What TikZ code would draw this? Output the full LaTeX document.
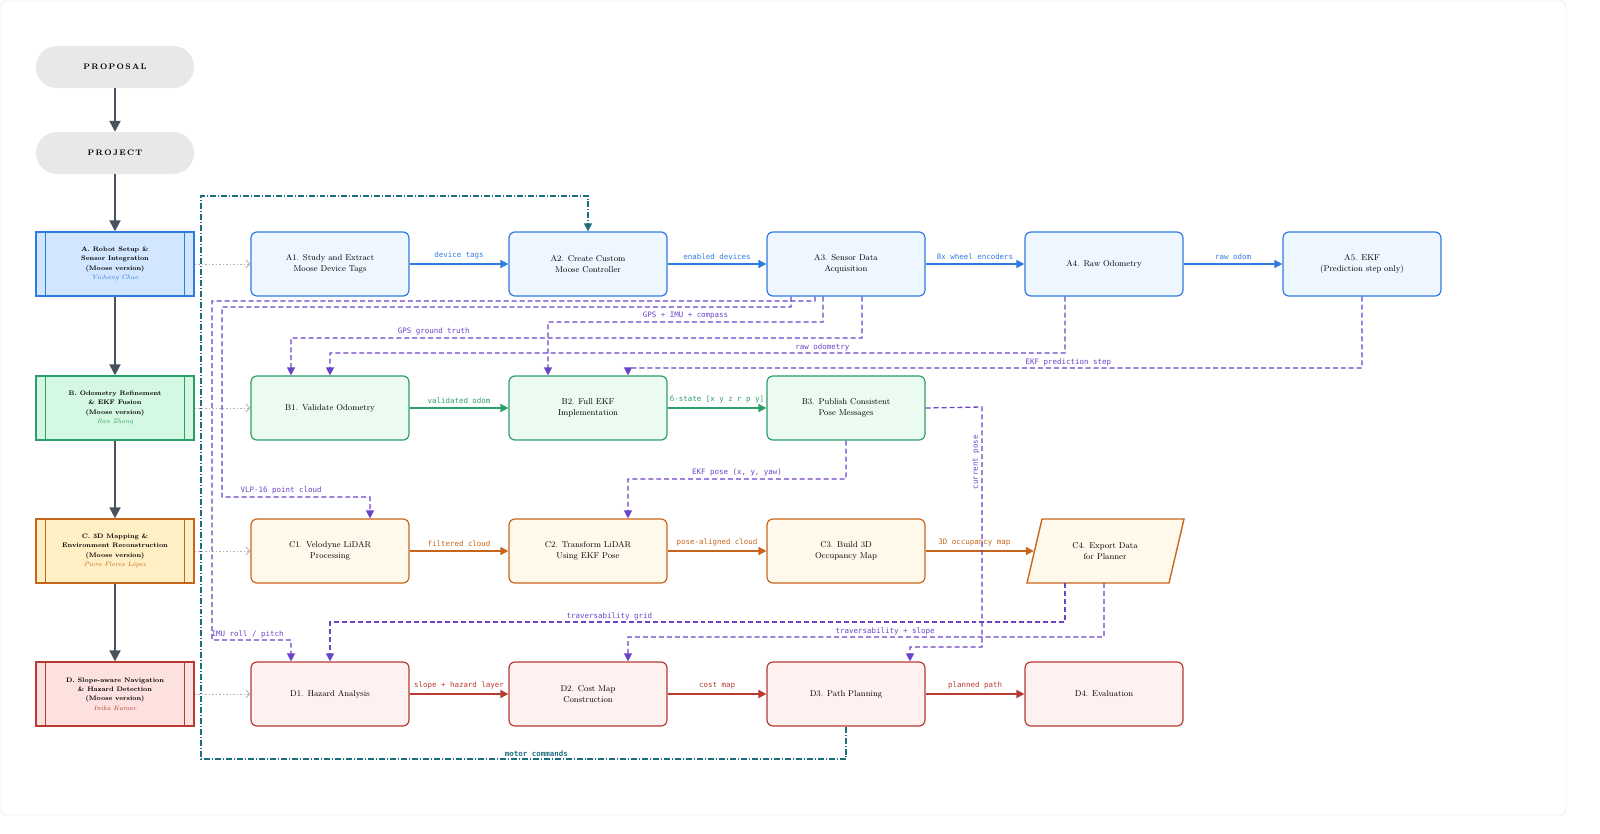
\documentclass[tikz,border=0pt]{standalone}
\usepackage{fontspec}
\newfontfamily\monof{DejaVu Sans Mono}
\usetikzlibrary{arrows.meta}
\definecolor{cA}{HTML}{2F7BE0}\definecolor{fA}{HTML}{EEF6FF}\definecolor{pA}{HTML}{D2E6FF}
\definecolor{cB}{HTML}{2E9E6A}\definecolor{fB}{HTML}{EBFBF2}\definecolor{pB}{HTML}{D4F8E1}
\definecolor{cC}{HTML}{C8651C}\definecolor{fC}{HTML}{FFF9EC}\definecolor{pC}{HTML}{FFEFC4}
\definecolor{cD}{HTML}{B83A32}\definecolor{fD}{HTML}{FFF1F0}\definecolor{pD}{HTML}{FCE1DF}
\definecolor{pur}{HTML}{6A44C8}\definecolor{teal}{HTML}{1D6F80}\definecolor{spine}{HTML}{4A5260}
\definecolor{labA}{HTML}{2F7BE0}\definecolor{labB}{HTML}{2E9E6A}\definecolor{labC}{HTML}{C8651C}\definecolor{labD}{HTML}{B83A32}
\begin{document}
\begin{tikzpicture}[x=1bp,y=-1bp,
 task/.style={draw,rounded corners=6pt,minimum width=158bp,minimum height=64bp,line width=1.2pt,align=center,font=\fontsize{8.5}{11.5}\selectfont},
 phase/.style={draw,minimum width=158bp,minimum height=64bp,line width=1.4pt,align=center,font=\fontsize{6.5}{9.5}\selectfont\bfseries},
 pill/.style={fill=gray!18,rounded corners=21pt,minimum width=158bp,minimum height=42bp,font=\fontsize{8}{9}\selectfont\bfseries},
 spinearr/.style={draw=spine,line width=2.2pt,-{Triangle[length=11pt,width=11pt]}},
 flow/.style={line width=1.6pt,-{Triangle[length=8pt,width=8pt]}},
 dep/.style={draw=pur,line width=1.3pt,dash pattern=on 5pt off 3pt,-{Triangle[length=8pt,width=8pt]}},
 dot/.style={draw=gray!60,line width=0.9pt,dash pattern=on 1.5pt off 2pt,-{Straight Barb[length=4pt]}},
 lab/.style={font=\monof\fontsize{7.5}{8.5}\selectfont,inner sep=1pt},
]
\draw[gray!25,rounded corners=6pt] (1,1) rectangle (1566,815);
% spine
\node[pill] (prop) at (115,67) {P\,R\,O\,P\,O\,S\,A\,L};
\node[pill] (proj) at (115,153) {P\,R\,O\,J\,E\,C\,T};
\node[phase,draw=cA,fill=pA] (PA) at (115,264) {A. Robot Setup \&\\Sensor Integration\\(Moose version)\\{\mdseries\itshape\color{cA}Yichang Chao}};
\node[phase,draw=cB,fill=pB] (PB) at (115,408) {B. Odometry Refinement\\\& EKF Fusion\\(Moose version)\\{\mdseries\itshape\color{cB}Ran Zhang}};
\node[phase,draw=cC,fill=pC] (PC) at (115,551) {C. 3D Mapping \&\\Environment Reconstruction\\(Moose version)\\{\mdseries\itshape\color{cC}Piero Flores López}};
\node[phase,draw=cD,fill=pD] (PD) at (115,694) {D. Slope-aware Navigation\\\& Hazard Detection\\(Moose version)\\{\mdseries\itshape\color{cD}Inika Kumar}};
\foreach \p/\c in {PA/cA,PB/cB,PC/cC,PD/cD}{
 \draw[\c,line width=1pt] ([xshift=10bp]\p.north west) -- ([xshift=10bp]\p.south west);
 \draw[\c,line width=1pt] ([xshift=-10bp]\p.north east) -- ([xshift=-10bp]\p.south east);}
\draw[spinearr] (prop) -- (proj);
\draw[spinearr] (proj) -- (PA);
\draw[spinearr] (PA) -- (PB);
\draw[spinearr] (PB) -- (PC);
\draw[spinearr] (PC) -- (PD);
% tasks
\node[task,draw=cA,fill=fA] (A1) at (330,264) {A1. Study and Extract\\Moose Device Tags};
\node[task,draw=cA,fill=fA] (A2) at (588,264) {A2. Create Custom\\Moose Controller};
\node[task,draw=cA,fill=fA] (A3) at (846,264) {A3. Sensor Data\\Acquisition};
\node[task,draw=cA,fill=fA] (A4) at (1104,264) {A4. Raw Odometry};
\node[task,draw=cA,fill=fA] (A5) at (1362,264) {A5. EKF\\(Prediction step only)};
\node[task,draw=cB,fill=fB] (B1) at (330,408) {B1. Validate Odometry};
\node[task,draw=cB,fill=fB] (B2) at (588,408) {B2. Full EKF\\Implementation};
\node[task,draw=cB,fill=fB] (B3) at (846,408) {B3. Publish Consistent\\Pose Messages};
\node[task,draw=cC,fill=fC] (C1) at (330,551) {C1. Velodyne LiDAR\\Processing};
\node[task,draw=cC,fill=fC] (C2) at (588,551) {C2. Transform LiDAR\\Using EKF Pose};
\node[task,draw=cC,fill=fC] (C3) at (846,551) {C3. Build 3D\\Occupancy Map};
\draw[cC,fill=fC,line width=1.4pt] (1042,519) -- (1184,519) -- (1169,583) -- (1027,583) -- cycle;
\node[align=center,font=\fontsize{8.5}{11.5}\selectfont,minimum width=142bp,minimum height=64bp] (C4) at (1105,551) {C4. Export Data\\for Planner};
\node[task,draw=cD,fill=fD] (D1) at (330,694) {D1. Hazard Analysis};
\node[task,draw=cD,fill=fD] (D2) at (588,694) {D2. Cost Map\\Construction};
\node[task,draw=cD,fill=fD] (D3) at (846,694) {D3. Path Planning};
\node[task,draw=cD,fill=fD] (D4) at (1104,694) {D4. Evaluation};
% dotted
\draw[dot] (PA) -- (A1); \draw[dot] (PB) -- (B1); \draw[dot] (PC) -- (C1); \draw[dot] (PD) -- (D1);
% flows
\draw[flow,cA] (A1) -- node[lab,above=3pt,labA]{device tags} (A2);
\draw[flow,cA] (A2) -- node[lab,above=3pt,labA]{enabled devices} (A3);
\draw[flow,cA] (A3) -- node[lab,above=3pt,labA]{8x wheel encoders} (A4);
\draw[flow,cA] (A4) -- node[lab,above=3pt,labA]{raw odom} (A5);
\draw[flow,cB] (B1) -- node[lab,above=3pt,labB]{validated odom} (B2);
\draw[flow,cB] (B2) -- node[lab,above=3pt,labB]{6-state [x y z r p y]} (B3);
\draw[flow,cC] (C1) -- node[lab,above=3pt,labC]{filtered cloud} (C2);
\draw[flow,cC] (C2) -- node[lab,above=3pt,labC]{pose-aligned cloud} (C3);
\draw[flow,cC] (C3) -- node[lab,above=3pt,labC,pos=0.45]{3D occupancy map} (C4.west);
\draw[flow,cD] (D1) -- node[lab,above=3pt,labD]{slope + hazard layer} (D2);
\draw[flow,cD] (D2) -- node[lab,above=3pt,labD]{cost map} (D3);
\draw[flow,cD] (D3) -- node[lab,above=3pt,labD]{planned path} (D4);
% teal motor commands
\draw[teal,line width=1.1pt,dash pattern=on 6pt off 2pt on 1pt off 2pt,-{Triangle[length=8pt,width=8pt]}]
 (D3.south) -- (846,759) -- node[lab,above=1pt,pos=0.48,font=\monof\fontsize{7.5}{8.5}\selectfont\bfseries]{motor commands} (201,759) -- (201,196) -- (588,196) -- (A2.north);
% purple dependencies
\draw[dep] ([xshift=-55bp]A3.south) -- (791,307) -- (222,307) -- (222,497) -- node[lab,above=1pt,pos=0.4,pur]{VLP-16 point cloud} (370,497) -- ([xshift=40bp]C1.north);
\draw[dep] ([xshift=-31bp]A3.south) -- (815,301) -- (212,301) -- (212,640) -- node[lab,above=0pt,pos=0.45,pur]{IMU roll / pitch} (291,640) -- ([xshift=-39bp]D1.north);
\draw[dep] ([xshift=-23bp]A3.south) -- (823,322) -- node[lab,above=1pt,pos=0.5,pur]{GPS + IMU + compass} (548,322) -- ([xshift=-40bp]B2.north);
\draw[dep] ([xshift=16bp]A3.south) -- (862,338) -- node[lab,above=1pt,pos=0.75,pur]{GPS ground truth} (291,338) -- ([xshift=-39bp]B1.north);
\draw[dep] ([xshift=-39bp]A4.south) -- (1065,353) -- node[lab,above=0pt,pos=0.33,pur]{raw odometry} (330,353) -- (B1.north);
\draw[dep] (A5.south) -- (1362,368) -- node[lab,above=0pt,pos=0.4,pur]{EKF prediction step} (628,368) -- ([xshift=40bp]B2.north);
\draw[dep] (B3.south) -- (846,479) -- node[lab,above=1pt,pos=0.5,pur]{EKF pose (x, y, yaw)} (628,479) -- ([xshift=40bp]C2.north);
\draw[dep] (B3.east) -- (982,407) -- node[lab,left=1pt,pos=0.23,rotate=90,anchor=south,pur]{current pose} (982,647) -- (910,647) -- ([xshift=64bp]D3.north);
\draw[dep] (1065,583) -- (1065,622) -- node[lab,above=0pt,pos=0.62,pur]{traversability grid} (330,622) -- (D1.north);
\draw[dep] (1104,583) -- (1104,637) -- node[lab,above=0pt,pos=0.46,pur]{traversability + slope} (628,637) -- ([xshift=40bp]D2.north);
\pgfresetboundingbox
\useasboundingbox (0,0) rectangle (1600,833);
\end{tikzpicture}
\end{document}
